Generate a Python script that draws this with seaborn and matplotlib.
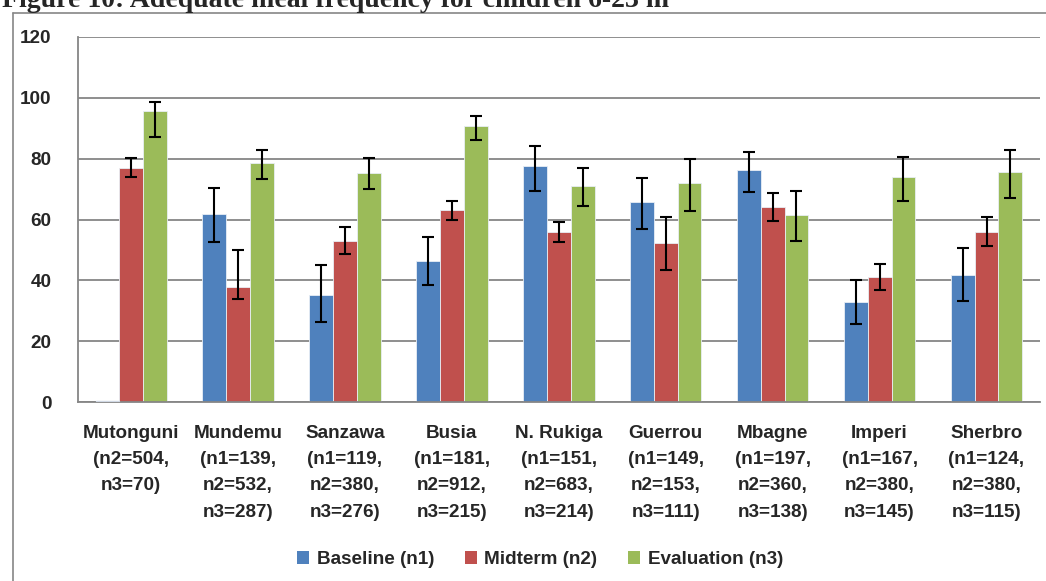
import numpy as np
import pandas as pd
import seaborn as sns
import matplotlib.pyplot as plt
from matplotlib.lines import Line2D
from matplotlib.patches import Patch

# dados
locais = ['Mutonguni\n(n2=504,\nn3=70)', 'Mundemu\n(n1=139,\nn2=532,\nn3=287)',
          'Sanzawa\n(n1=119,\nn2=380,\nn3=276)', 'Busia\n(n1=181,\nn2=912,\nn3=215)',
          'N. Rukiga\n(n1=151,\nn2=683,\nn3=214)', 'Guerrou\n(n1=149,\nn2=153,\nn3=111)',
          'Mbagne\n(n1=197,\nn2=360,\nn3=138)', 'Imperi\n(n1=167,\nn2=380,\nn3=145)',
          'Sherbro\n(n1=124,\nn2=380,\nn3=115)']
series = ['Baseline (n1)', 'Midterm (n2)', 'Evaluation (n3)']

baseline = [0, 61.9, 35.2, 46.4, 77.5, 65.8, 76.2, 32.8, 41.8]
baseline_inf = [np.nan, 52.6, 26.5, 38.5, 69.3, 57.0, 69.0, 25.8, 33.4]
baseline_sup = [np.nan, 70.5, 45.2, 54.4, 84.1, 73.7, 82.2, 40.2, 50.7]

midterm = [77.0, 38.0, 53.0, 63.0, 56.0, 52.3, 64.1, 41.1, 56.0]
midterm_inf = [74.0, 34.0, 48.6, 59.8, 52.7, 43.5, 59.5, 37.0, 51.4]
midterm_sup = [80.1, 49.9, 57.6, 66.2, 59.3, 61.0, 68.6, 45.3, 60.7]

avaliacao = [95.6, 78.5, 75.3, 90.7, 71.0, 72.0, 61.6, 73.9, 75.7]
avaliacao_inf = [87.2, 73.3, 69.9, 86.0, 64.5, 62.9, 53.1, 66.0, 67.0]
avaliacao_sup = [98.7, 82.8, 80.2, 94.1, 76.8, 79.8, 69.5, 80.4, 82.8]

cores = ['#4F81BD', '#C0504D', '#9BBB59']
cinza = '#868686'

valores = [baseline, midterm, avaliacao]
inferiores = [baseline_inf, midterm_inf, avaliacao_inf]
superiores = [baseline_sup, midterm_sup, avaliacao_sup]

df = pd.DataFrame({
    'local': locais * 3,
    'serie': [s for s in series for _ in locais],
    'valor': baseline + midterm + avaliacao,
})

sns.set_style('white')
plt.rcParams['font.family'] = ['Liberation Sans', 'DejaVu Sans']
plt.rcParams['font.weight'] = 'bold'

fig = plt.figure(figsize=(10.46, 5.81), dpi=100)
ax = fig.add_axes([77.7 / 1046, 1 - 402.3 / 581, (1040 - 77.7) / 1046, (402.3 - 36.8) / 581])

sns.barplot(data=df, x='local', y='valor', hue='serie', hue_order=series, order=locais,
            palette=cores, width=0.667, errorbar=None, saturation=1, ax=ax,
            edgecolor='#e8eef5', linewidth=0.6)

# barra de valor zero (Mutonguni sem baseline) aparece como um traco claro
ax.plot([ax.containers[0][0].get_x(), ax.containers[0][0].get_x() + ax.containers[0][0].get_width()],
        [0.3, 0.3], color='#d0d8e4', linewidth=1, zorder=4)

# barras de erro
for cont, val, inf, sup in zip(ax.containers, valores, inferiores, superiores):
    xs = [b.get_x() + b.get_width() / 2 for b in cont]
    val = np.array(val)
    err = np.array([val - np.array(inf), np.array(sup) - val])
    ax.errorbar(xs, val, yerr=err, fmt='none', ecolor='black', elinewidth=1.5,
                capsize=4.5, capthick=1.5, zorder=5)

ax.set_ylim(0, 120)
ax.set_xlim(-0.5, 8.5)
ax.set_yticks(range(0, 121, 20))
ax.yaxis.grid(True, color=cinza, linewidth=1.3)
ax.set_axisbelow(True)
ax.set_xlabel('')
ax.set_ylabel('')

for lado in ['top', 'right']:
    ax.spines[lado].set_visible(False)
for lado in ['left', 'bottom']:
    ax.spines[lado].set_color(cinza)
    ax.spines[lado].set_linewidth(1.3)

ax.tick_params(axis='y', length=5, color=cinza, width=1.2, labelsize=13.6, pad=14)
ax.set_xticks(np.arange(-0.5, 9, 1), minor=True)
ax.tick_params(axis='x', which='minor', length=5, color=cinza, width=1.2)
ax.tick_params(axis='x', which='major', length=0, labelsize=13.6, pad=16)
for t in ax.get_xticklabels():
    t.set_linespacing(1.72)
    t.set_fontweight('bold')
for t in ax.get_yticklabels():
    t.set_fontweight('bold')

ax.get_legend().remove()
alcas = [Patch(facecolor=c, edgecolor='none') for c in cores]
fig.legend(alcas, series, loc='center', bbox_to_anchor=(540 / 1046, 1 - 559.5 / 581),
           ncol=3, frameon=False, handlelength=0.65, handleheight=0.65,
           handletextpad=0.4, columnspacing=1.6, prop={'weight': 'bold', 'size': 13.6})

# moldura do grafico (so esquerda e topo aparecem)
y_topo = 1 - 12.7 / 581
x_esq = 12.7 / 1046
fig.add_artist(Line2D([x_esq, x_esq], [0, y_topo], color=cinza, linewidth=1.2, transform=fig.transFigure))
fig.add_artist(Line2D([x_esq, 1], [y_topo, y_topo], color=cinza, linewidth=1.2, transform=fig.transFigure))

fig.text(0.0015, 1 - 7 / 581, 'Figure 10: Adequate meal frequency for children 6-23 m',
         family=['Liberation Serif', 'DejaVu Serif'], weight='bold', fontsize=20,
         ha='left', va='baseline')

fig.savefig('out.png', dpi=100)
